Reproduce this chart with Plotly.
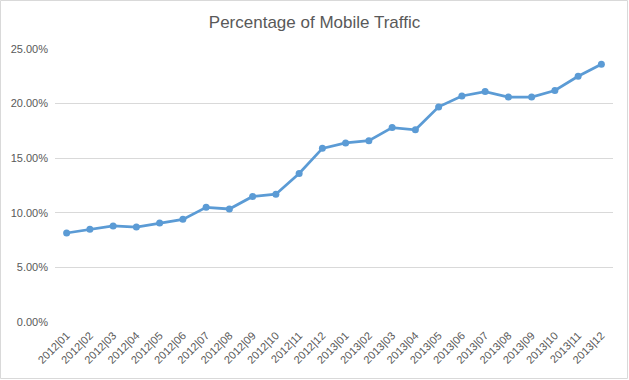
import plotly.graph_objects as go

months = ["2012|01", "2012|02", "2012|03", "2012|04", "2012|05", "2012|06",
          "2012|07", "2012|08", "2012|09", "2012|10", "2012|11", "2012|12",
          "2013|01", "2013|02", "2013|03", "2013|04", "2013|05", "2013|06",
          "2013|07", "2013|08", "2013|09", "2013|10", "2013|11", "2013|12"]
mobile_share = [0.0815, 0.085, 0.088, 0.087, 0.0907, 0.094,
                0.105, 0.1035, 0.115, 0.117, 0.136, 0.159,
                0.164, 0.166, 0.178, 0.176, 0.197, 0.207,
                0.211, 0.206, 0.206, 0.212, 0.225, 0.236]
y_ticks = [0, 0.05, 0.10, 0.15, 0.20, 0.25]

W, H = 629, 380
ML, MR, MT, MB = 55, 16, 49, 58
pw = W - ML - MR
ph = H - MT - MB
FONT = "Liberation Sans, Arial, sans-serif"

fig = go.Figure()
fig.add_trace(go.Scatter(
    x=months, y=mobile_share, mode="lines+markers",
    line=dict(color="#5B9BD5", width=2.75),
    marker=dict(color="#5B9BD5", size=7),
    hoverinfo="x+y",
))

fig.update_layout(
    width=W, height=H,
    margin=dict(l=ML, r=MR, t=MT, b=MB, autoexpand=False),
    paper_bgcolor="white", plot_bgcolor="white",
    title=dict(text="Percentage of Mobile Traffic", x=0.5, xanchor="center",
               y=1 - 22 / H, yanchor="middle",
               font=dict(family=FONT, size=17, color="#595959")),
    xaxis=dict(type="category", tickangle=-45, showgrid=False, showline=False,
               automargin=False, ticks="", ticklabelstandoff=4,
               tickfont=dict(family=FONT, size=11, color="#595959"),
               range=[-0.5, len(months) - 0.5]),
    yaxis=dict(range=[0, 0.25], tickvals=y_ticks, tickformat=".2%",
               automargin=False,
               showgrid=True, gridcolor="#D9D9D9", gridwidth=1, zeroline=False,
               showline=False, ticks="", ticklabelstandoff=6,
               tickfont=dict(family=FONT, size=11, color="#595959")),
    showlegend=False,
    shapes=[dict(type="rect", xref="paper", yref="paper",
                 x0=-(ML - 0.5) / pw, x1=1 + (MR - 1.5) / pw,
                 y0=-(MB - 1.5) / ph, y1=1 + (MT - 0.5) / ph,
                 line=dict(color="#D9D9D9", width=1), layer="below")],
)

fig.write_html("out.html", config={"displayModeBar": False},
               post_script="document.body.style.margin='0';document.body.style.overflow='hidden';")
